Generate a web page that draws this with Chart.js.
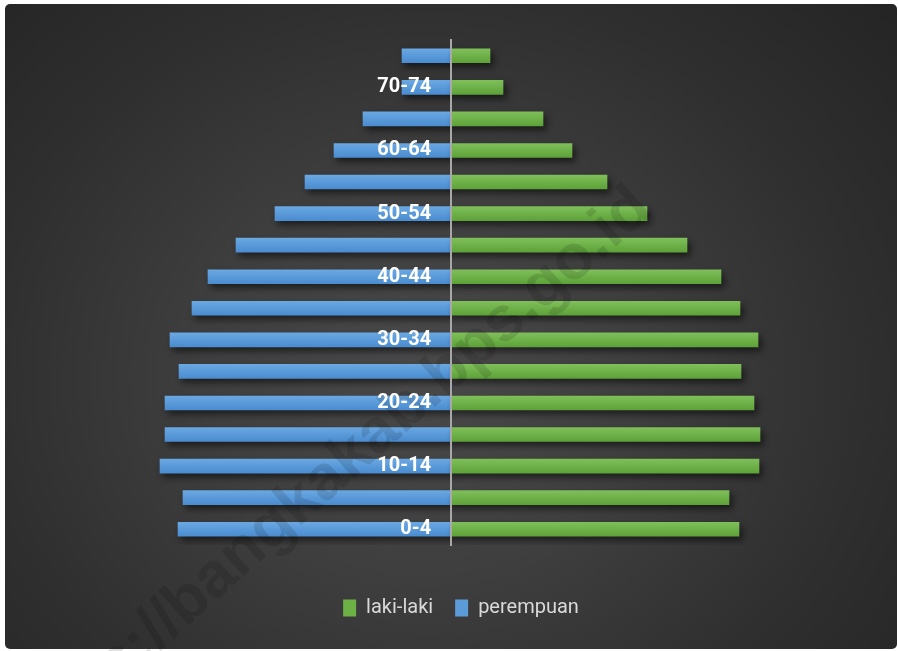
<!DOCTYPE html>
<html><head><meta charset="utf-8">
<script src="https://cdn.jsdelivr.net/npm/chart.js@4"></script>
<style>
html,body{margin:0;padding:0;background:#fff;width:898px;height:651px;overflow:hidden}
#bg{position:absolute;left:5px;top:4px;width:892px;height:645px;border-radius:5px;
background:radial-gradient(ellipse 70% 85% at 47% 58%, #4a4a4a 0%, #3f3f3f 35%, #2f2f2f 70%, #252525 100%)}
#wrap{position:absolute;left:0;top:0;width:898px;height:651px}
</style></head><body>
<div id="bg"></div>
<div id="wrap"><canvas id="c"></canvas></div>
<script>
const ageGroups = ['0-4','5-9','10-14','15-19','20-24','25-29','30-34','35-39','40-44','45-49','50-54','55-59','60-64','65-69','70-74','75+'];
const lakiLaki  = [288, 278, 308, 309, 303, 290, 307, 289, 270, 236, 196, 156, 121, 92, 52, 39];
const perempuan = [273, 268, 291, 286, 286, 272, 281, 259, 243, 215, 176, 146, 117, 88, 49, 49];
const seriesNames = ['laki-laki', 'perempuan'];
const xMin = -300, xMax = 320;

const fontFam = "Roboto, 'Liberation Sans', sans-serif";

function barGradient(ctx, top, bottom, flat) {
  const chart = ctx.chart;
  const y = chart.scales && chart.scales.y;
  if (ctx.type !== 'data' || !y || !chart.chartArea) return flat;
  const c = y.getPixelForValue(ctx.dataIndex);
  const g = chart.ctx.createLinearGradient(0, c - 7, 0, c + 7);
  g.addColorStop(0, top);
  g.addColorStop(1, bottom);
  return g;
}

const fxPlugin = {
  id: 'fx',
  beforeDatasetsDraw(chart) {
    const c = chart.ctx;
    c.save();
    c.shadowColor = 'rgba(0,0,0,0.55)';
    c.shadowBlur = 7;
    c.shadowOffsetX = 3;
    c.shadowOffsetY = 4;
  },
  afterDatasetsDraw(chart) {
    const c = chart.ctx;
    c.restore();
    c.save();
    c.translate(640, 196);
    c.rotate(-41.5 * Math.PI / 180);
    c.font = "bold 63px 'Liberation Sans', Arial, sans-serif";
    c.textAlign = 'right';
    c.textBaseline = 'alphabetic';
    c.fillStyle = 'rgba(0,0,0,0.12)';
    c.fillText('https://bangkakab.bps.go.id', 0, 22);
    c.restore();
  }
};

new Chart(document.getElementById('c'), {
  type: 'bar',
  data: {
    labels: ageGroups,
    datasets: [
      {
        label: seriesNames[0],
        data: lakiLaki,
        legendColor: '#6cb046',
        backgroundColor: ctx => barGradient(ctx, '#7fbf5a', '#5da238', '#6cb046'),
        borderWidth: 0,
        barThickness: 14
      },
      {
        label: seriesNames[1],
        data: perempuan.map(v => -v),
        legendColor: '#5a9bd8',
        backgroundColor: ctx => barGradient(ctx, '#6aa8e2', '#4a8cd0', '#5a9bd8'),
        borderWidth: 0,
        barThickness: 14
      }
    ]
  },
  options: {
    indexAxis: 'y',
    responsive: true,
    maintainAspectRatio: false,
    animation: false,
    layout: { padding: { left: 151, right: 127, top: 40, bottom: 23 } },
    scales: {
      x: {
        min: xMin, max: xMax, stacked: true,
        ticks: { display: false },
        grid: { display: false },
        border: { display: false },
        afterFit(s) { s.height = 31; }
      },
      y: {
        stacked: true,
        reverse: true,
        position: { x: 0 },
        grid: { display: false, drawTicks: false },
        border: { display: true, color: '#a8a8a8', width: 2, z: 2 },
        ticks: {
          z: 2,
          autoSkip: false,
          color: '#ffffff',
          font: { family: fontFam, size: 20, weight: 'bold' },
          callback(v, i) { return i % 2 === 0 ? this.getLabelForValue(v) + '    ' : ''; }
        }
      }
    },
    plugins: {
      tooltip: { enabled: false },
      legend: {
        position: 'bottom',
        labels: {
          color: '#d9d9d9',
          boxWidth: 13,
          boxHeight: 17,
          padding: 22,
          font: { family: fontFam, size: 20 },
          generateLabels: chart => chart.data.datasets.map((ds, i) => ({
            text: ds.label, fillStyle: ds.legendColor, strokeStyle: ds.legendColor,
            lineWidth: 0, hidden: false, datasetIndex: i, fontColor: '#d9d9d9'
          }))
        }
      }
    }
  },
  plugins: [fxPlugin]
});
</script>
</body></html>
